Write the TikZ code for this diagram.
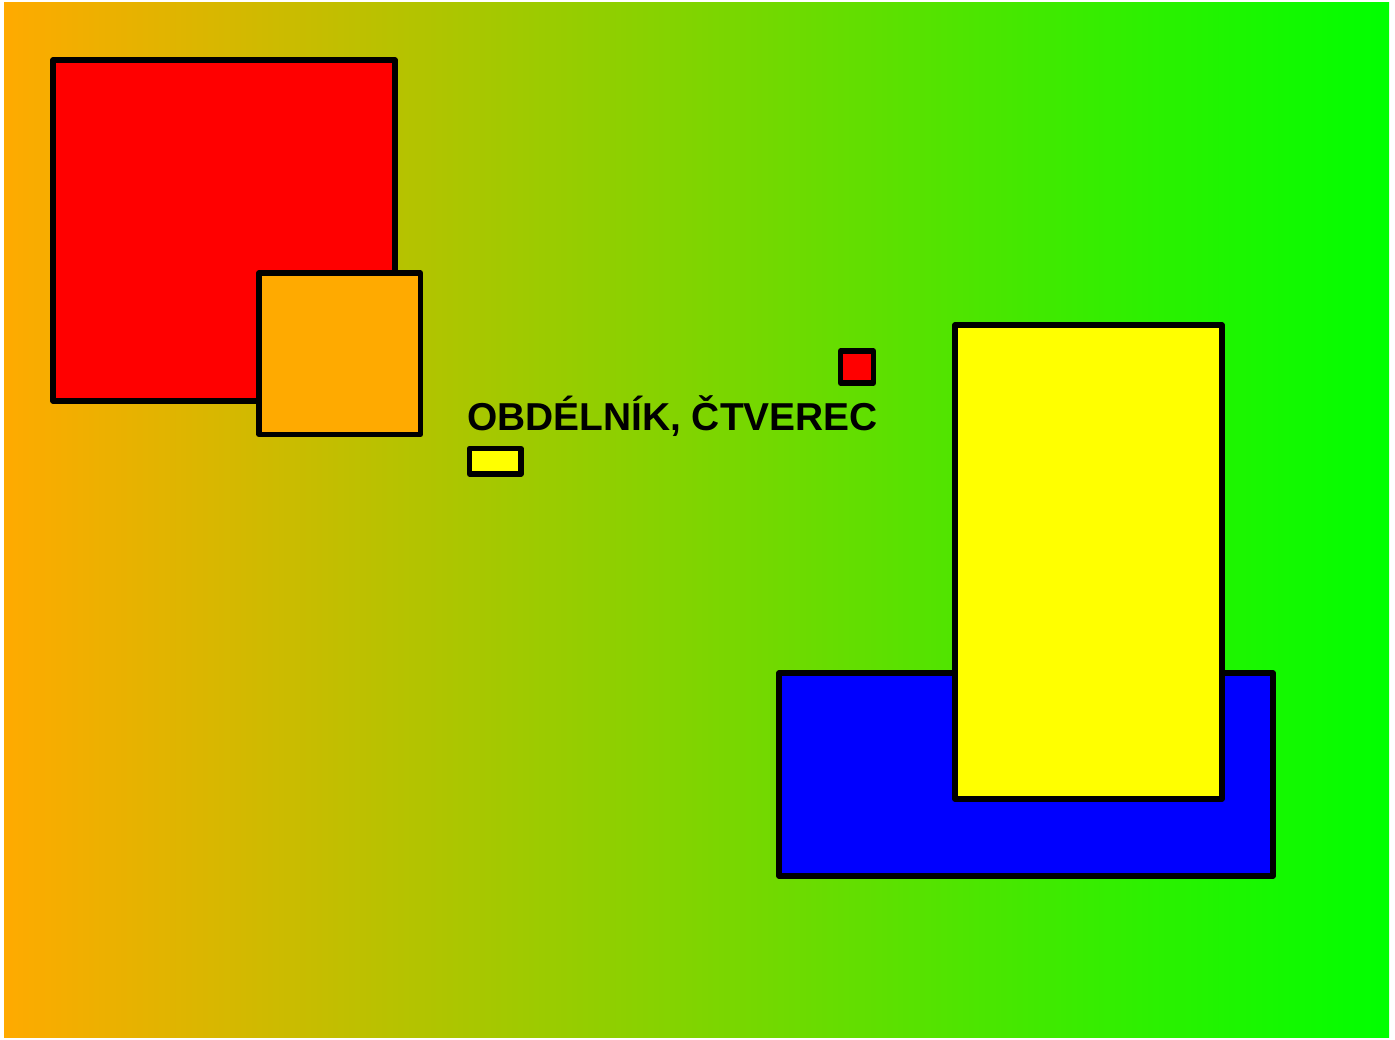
\documentclass[tikz,border=0pt]{standalone}
\usepackage{fontspec}
\setmainfont{Liberation Sans}
\definecolor{bgleft}{RGB}{255,170,0}
\definecolor{bgright}{RGB}{0,255,0}
\definecolor{boxred}{RGB}{255,0,0}
\definecolor{boxorange}{RGB}{255,170,0}
\definecolor{boxyellow}{RGB}{255,255,0}
\definecolor{boxblue}{RGB}{0,0,255}
\tikzset{
  shapebox/.style={draw=black, line width=5.2pt, line join=round},
}
\begin{document}
\begin{tikzpicture}[x=1pt,y=-1pt]
\useasboundingbox (0,0) rectangle (1395,1039);
\fill[white] (0,0) rectangle (1395,1039);
\shade[left color=bgleft, right color=bgright] (4,2) rectangle (1389,1037);
% top-left squares
\draw[shapebox, fill=boxred] (53,60) rectangle (395,401);
\draw[shapebox, fill=boxorange] (259,273) rectangle (420.5,434.5);
% small markers
\draw[shapebox, fill=boxred] (840.5,351) rectangle (873.5,383);
\draw[shapebox, fill=boxyellow] (469.5,448.5) rectangle (521,474);
% title
\node[anchor=base west, inner sep=0pt, font=\fontsize{38.9}{46}\selectfont\bfseries] (title) at (467,430) {OBDÉLNÍK, ČTVEREC};
% bottom-right rectangles
\draw[shapebox, fill=boxblue] (779,673) rectangle (1273,876);
\draw[shapebox, fill=boxyellow] (955,325) rectangle (1222,799);
\end{tikzpicture}
\end{document}
